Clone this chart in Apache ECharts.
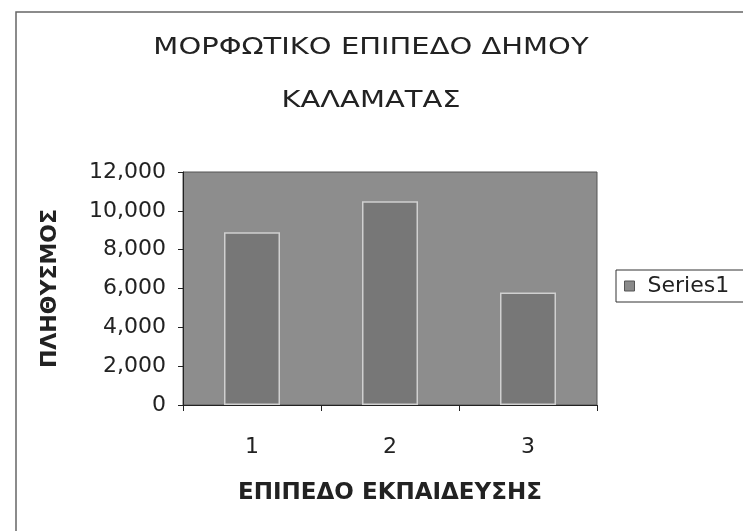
<!DOCTYPE html>
<html>
<head>
<meta charset="utf-8">
<script src="https://cdn.jsdelivr.net/npm/echarts@6/dist/echarts.min.js"></script>
<style>
  html, body { margin: 0; padding: 0; background: #fff; }
  #chart { width: 743px; height: 531px; }
</style>
</head>
<body>
<div id="chart"></div>
<script>
// values
const categories = ['1', '2', '3'];
const population = [8900, 10500, 5800];
const seriesName = 'Series1';
const titleLines = ['ΜΟΡΦΩΤΙΚΟ ΕΠΙΠΕΔΟ ΔΗΜΟΥ', 'ΚΑΛΑΜΑΤΑΣ'];
const xName = 'ΕΠΙΠΕΔΟ ΕΚΠΑΙΔΕΥΣΗΣ';
const yName = 'ΠΛΗΘΥΣΜΟΣ';

const font = 'DejaVu Sans';
const ink = '#222';

const chart = echarts.init(document.getElementById('chart'), null, { renderer: 'canvas' });

// the scanned title is wider than the font, so stretch it a little
const titleText = titleLines.map((t, i) => ({
  type: 'text',
  x: 371,
  y: 48 + i * 53,
  scaleX: 1.26,
  silent: true,
  style: {
    text: t,
    align: 'center',
    verticalAlign: 'middle',
    fontFamily: font,
    fontSize: 23,
    fill: ink
  }
}));

chart.setOption({
  animation: false,
  backgroundColor: '#fff',
  legend: {
    left: 616,
    top: 270,
    orient: 'vertical',
    padding: [5, 30, 5, 8],
    borderColor: '#333',
    borderWidth: 1,
    icon: 'rect',
    itemWidth: 10,
    itemHeight: 10,
    itemStyle: { color: '#8a8a8a', borderColor: '#555', borderWidth: 1 },
    textStyle: { fontFamily: font, fontSize: 22, color: ink, padding: [0, 0, 0, 8] },
    data: [seriesName]
  },
  grid: {
    left: 183,
    right: 146,
    top: 172,
    bottom: 126,
    show: true,
    backgroundColor: '#8d8d8d',
    borderColor: '#555',
    borderWidth: 1
  },
  xAxis: {
    type: 'category',
    data: categories,
    name: xName,
    nameLocation: 'middle',
    nameGap: 77,
    nameTextStyle: { fontFamily: font, fontSize: 23, fontWeight: 'bold', color: ink },
    axisLine: { lineStyle: { color: ink, width: 1 } },
    axisTick: { show: true, length: 6, lineStyle: { color: ink } },
    axisLabel: { fontFamily: font, fontSize: 22, color: ink, margin: 31 }
  },
  yAxis: {
    type: 'value',
    min: 0,
    max: 12000,
    interval: 2000,
    name: yName,
    nameLocation: 'middle',
    nameGap: 122,
    nameTextStyle: { fontFamily: font, fontSize: 22, fontWeight: 'bold', color: ink },
    axisLine: { show: true, lineStyle: { color: ink, width: 1 } },
    axisTick: { show: true, length: 5, lineStyle: { color: ink } },
    splitLine: { show: false },
    axisLabel: {
      fontFamily: font,
      fontSize: 22,
      color: ink,
      margin: 17,
      formatter: v => v.toLocaleString('en-US')
    }
  },
  series: [{
    name: seriesName,
    type: 'bar',
    data: population,
    barWidth: 56,
    itemStyle: { color: '#777', borderColor: '#d0d0d0', borderWidth: 1.5 }
  }],
  graphic: [{
    type: 'rect',
    shape: { x: 16, y: 12, width: 800, height: 600 },
    style: { fill: 'none', stroke: '#666', lineWidth: 1.5 },
    silent: true
  }].concat(titleText)
});
</script>
</body>
</html>
